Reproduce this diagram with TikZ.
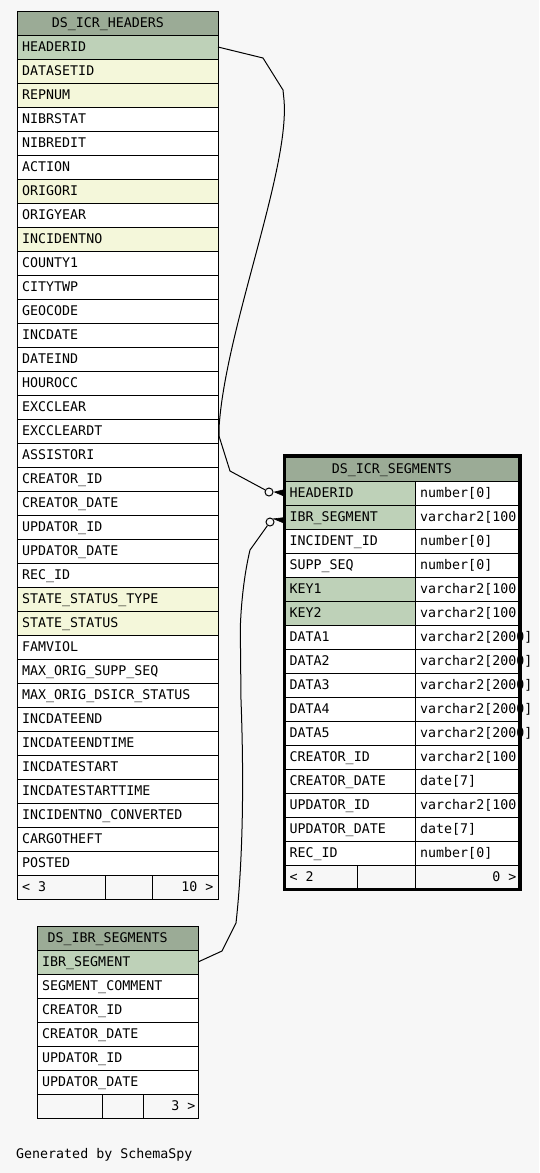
\documentclass[tikz,border=0pt]{standalone}
\usepackage{fontspec}
\setmonofont{DejaVu Sans Mono}
\definecolor{bgc}{HTML}{F7F7F7}
\definecolor{hdr}{HTML}{9BAB96}
\definecolor{pk}{HTML}{BED1B8}
\definecolor{ix}{HTML}{F4F7DA}
\tikzset{
  cellbox/.style={draw=black, line width=1pt, inner sep=0pt, outer sep=0pt,
    minimum height=24pt, anchor=north west},
  celltext/.style={anchor=base west, inner sep=0pt,
    font=\ttfamily\fontsize{13.3}{16}\selectfont},
  celltextr/.style={celltext, anchor=base east},
  conn/.style={draw=black, line width=1pt},
  odot/.style={circle, draw=black, line width=1pt, fill=bgc, minimum size=8pt, inner sep=0pt},
  crow/.style={fill=black, draw=black, line width=0.6pt, line join=miter},
}
\begin{document}
\begin{tikzpicture}[x=1pt,y=-1pt]
\useasboundingbox (0,0) rectangle (539,1173);
\fill[bgc] (0,0) rectangle (539,1173);

% ---------------- DS_ICR_HEADERS ----------------
\node[cellbox, fill=hdr, minimum width=201pt] (h-title) at (17,11) {};
\node[celltext] at (51.7,27) {DS\_ICR\_HEADERS};
\foreach \nm/\lbl/\fc [count=\i from 0] in {
  headerid/HEADERID/pk, datasetid/DATASETID/ix, repnum/REPNUM/ix,
  nibrstat/NIBRSTAT/white, nibredit/NIBREDIT/white, action/ACTION/white,
  origori/ORIGORI/ix, origyear/ORIGYEAR/white, incidentno/INCIDENTNO/ix,
  county1/COUNTY1/white, citytwp/CITYTWP/white, geocode/GEOCODE/white,
  incdate/INCDATE/white, dateind/DATEIND/white, hourocc/HOUROCC/white,
  excclear/EXCCLEAR/white, excclleardt/EXCCLEARDT/white, assistori/ASSISTORI/white,
  creatorid/CREATOR\_ID/white, creatordate/CREATOR\_DATE/white,
  updatorid/UPDATOR\_ID/white, updatordate/UPDATOR\_DATE/white,
  recid/REC\_ID/white, sst/STATE\_STATUS\_TYPE/ix, ss/STATE\_STATUS/ix,
  famviol/FAMVIOL/white, mos/MAX\_ORIG\_SUPP\_SEQ/white,
  mods/MAX\_ORIG\_DSICR\_STATUS/white, incdateend/INCDATEEND/white,
  incdateendtime/INCDATEENDTIME/white, incdatestart/INCDATESTART/white,
  incdatestarttime/INCDATESTARTTIME/white, inc/INCIDENTNO\_CONVERTED/white,
  cargotheft/CARGOTHEFT/white, posted/POSTED/white}
{
  \node[cellbox, fill=\fc, minimum width=201pt] (h-\nm) at (17,35+24*\i) {};
  \node[celltext] at (22,51+24*\i) {\lbl};
}
\node[cellbox, fill=bgc, minimum width=88pt] (h-f1) at (17,875) {};
\node[cellbox, fill=bgc, minimum width=47pt] (h-f2) at (105,875) {};
\node[cellbox, fill=bgc, minimum width=66pt] (h-f3) at (152,875) {};
\node[celltext] at (22,891) {< 3};
\node[celltextr] at (213.5,891) {10 >};

% ---------------- DS_ICR_SEGMENTS ----------------
\node[cellbox, fill=hdr, minimum width=234pt] (s-title) at (285,457) {};
\node[celltext] at (331.7,473) {DS\_ICR\_SEGMENTS};
\foreach \nm/\lbl/\typ/\fc [count=\i from 0] in {
  headerid/HEADERID/{number[0]}/pk, ibrsegment/IBR\_SEGMENT/{varchar2[100]}/pk,
  incidentid/INCIDENT\_ID/{number[0]}/white, suppseq/SUPP\_SEQ/{number[0]}/white,
  key1/KEY1/{varchar2[100]}/pk, key2/KEY2/{varchar2[100]}/pk,
  data1/DATA1/{varchar2[2000]}/white, data2/DATA2/{varchar2[2000]}/white,
  data3/DATA3/{varchar2[2000]}/white, data4/DATA4/{varchar2[2000]}/white,
  data5/DATA5/{varchar2[2000]}/white, creatorid/CREATOR\_ID/{varchar2[100]}/white,
  creatordate/CREATOR\_DATE/{date[7]}/white, updatorid/UPDATOR\_ID/{varchar2[100]}/white,
  updatordate/UPDATOR\_DATE/{date[7]}/white, recid/REC\_ID/{number[0]}/white}
{
  \node[cellbox, fill=\fc, minimum width=130pt] (s-\nm) at (285,481+24*\i) {};
  \node[cellbox, fill=white, minimum width=104pt] (st-\nm) at (415,481+24*\i) {};
  \node[celltext] at (289.5,497+24*\i) {\lbl};
  \node[celltext] at (420,497+24*\i) {\typ};
}
\node[cellbox, fill=bgc, minimum width=72pt] (s-f1) at (285,865) {};
\node[cellbox, fill=bgc, minimum width=58pt] (s-f2) at (357,865) {};
\node[cellbox, fill=bgc, minimum width=104pt] (s-f3) at (415,865) {};
\node[celltext] at (289.5,881) {< 2};
\node[celltextr] at (516.7,881) {0 >};

% ---------------- DS_IBR_SEGMENTS ----------------
\node[cellbox, fill=hdr, minimum width=161pt] (i-title) at (37,926) {};
\node[celltext] at (47.3,942) {DS\_IBR\_SEGMENTS};
\foreach \nm/\lbl/\fc [count=\i from 0] in {
  ibrsegment/IBR\_SEGMENT/pk, segmentcomment/SEGMENT\_COMMENT/white,
  creatorid/CREATOR\_ID/white, creatordate/CREATOR\_DATE/white,
  updatorid/UPDATOR\_ID/white, updatordate/UPDATOR\_DATE/white}
{
  \node[cellbox, fill=\fc, minimum width=161pt] (i-\nm) at (37,950+24*\i) {};
  \node[celltext] at (42,966+24*\i) {\lbl};
}
\node[cellbox, fill=bgc, minimum width=65pt] (i-f1) at (37,1094) {};
\node[cellbox, fill=bgc, minimum width=41pt] (i-f2) at (102,1094) {};
\node[cellbox, fill=bgc, minimum width=55pt] (i-f3) at (143,1094) {};
\node[celltextr] at (195.5,1110) {3 >};

% ---------------- connectors ----------------
\node[odot] (c1) at (269,492) {};
\node[odot] (c2) at (270,522) {};
\draw[conn] (h-headerid.east) -- (263,58) -- (283,90) -- (284,100)
  .. controls (290,170) and (225,330) .. (219,428) -- (219,436) -- (230,471) -- (c1);
\fill[crow] (c1.east) ++(1,0) -- ([yshift=3.5pt]s-headerid.west) -- ([yshift=-3.5pt]s-headerid.west) -- cycle;
\draw[conn] (i-ibrsegment.east) -- (222,951) -- (236,923)
  .. controls (243,860) and (244,780) .. (241,700) -- (240.3,628)
  .. controls (241,605) and (244,575) .. (250,550) -- (c2);
\fill[crow] (c2.north east) ++(0.5,0) -- ([yshift=-0.5pt]s-ibrsegment.west) -- ([yshift=-6.5pt]s-ibrsegment.west) -- cycle;

% thick frame of DS_ICR_SEGMENTS
\draw[line width=3.4pt] (284.2,455.5) rectangle (519.8,889.3);

\node[celltext] (gen) at (16,1158.5) {Generated by SchemaSpy};
\end{tikzpicture}
\end{document}
